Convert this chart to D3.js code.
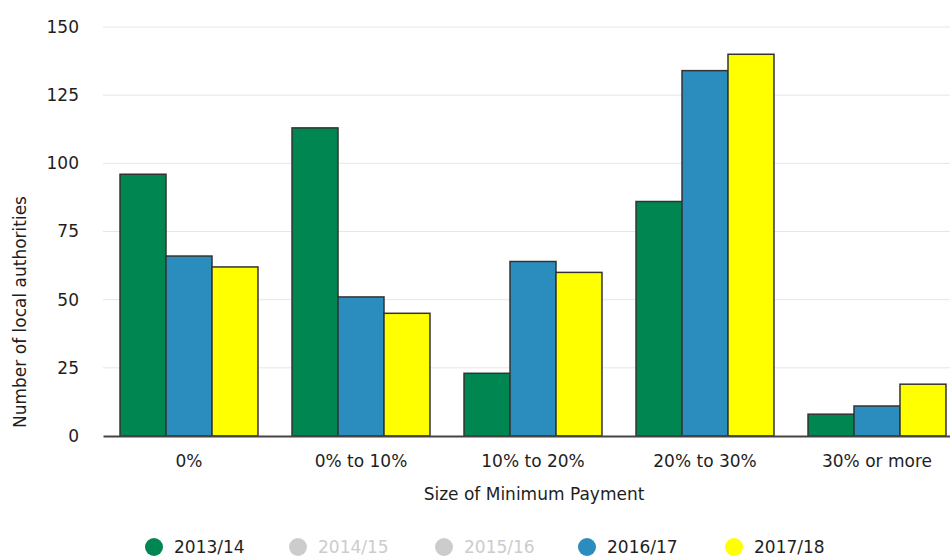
<!DOCTYPE html>
<html>
<head>
<meta charset="utf-8">
<script src="https://cdn.jsdelivr.net/npm/d3@7"></script>
<style>
  body { margin: 0; background: #fff; overflow: hidden; }
  svg { font-family: "DejaVu Sans", Verdana, sans-serif; }
</style>
</head>
<body>
<svg id="chart" width="950" height="556"></svg>
<script>
// data
var categories = ["0%", "0% to 10%", "10% to 20%", "20% to 30%", "30% or more"];
var values1314 = [96, 113, 23, 86, 8];
var values1617 = [66, 51, 64, 134, 11];
var values1718 = [62, 45, 60, 140, 19];
var yTicks = [0, 25, 50, 75, 100, 125, 150];

// legend entries (2014/15 and 2015/16 are switched off in the original)
var legendNames = ["2013/14", "2014/15", "2015/16", "2016/17", "2017/18"];
var legendColors = ["#008751", "#cccccc", "#cccccc", "#2b8cbe", "#ffff00"];
var legendVisible = [true, false, false, true, true];

var series = [
  { name: "2013/14", color: "#008751", values: values1314 },
  { name: "2016/17", color: "#2b8cbe", values: values1617 },
  { name: "2017/18", color: "#ffff00", values: values1718 }
];

var fontSize = 17;
var textColor = "#1e1e1e";

// the original plot runs a little past the right edge of the picture
var margin = { top: 27, left: 103 };
var plotWidth = 860;
var height = 436 - margin.top;

var svg = d3.select("#chart");
var g = svg.append("g").attr("transform", "translate(" + margin.left + "," + margin.top + ")");

var x = d3.scaleBand().domain(categories).range([0, plotWidth]);
var xInner = d3.scaleBand().domain(series.map(function(d) { return d.name; }))
  .range([0, x.bandwidth()]).paddingOuter(0.37).paddingInner(0);
var y = d3.scaleLinear().domain([0, 150]).range([height, 0]);

// gridlines
g.append("g").selectAll("line")
  .data(yTicks.slice(1))
  .enter().append("line")
  .attr("x1", 0).attr("x2", plotWidth)
  .attr("y1", function(d) { return y(d); })
  .attr("y2", function(d) { return y(d); })
  .attr("stroke", "#e6e6e6").attr("stroke-width", 1);

// y axis labels
var yAxis = d3.axisLeft(y).tickValues(yTicks).tickSize(0).tickPadding(24);
g.append("g").call(yAxis)
  .call(function(s) { s.select(".domain").remove(); })
  .selectAll("text")
  .attr("font-size", fontSize).attr("fill", textColor)
  .attr("font-family", "DejaVu Sans, Verdana, sans-serif");

// bars
var groups = g.selectAll(".grp")
  .data(categories)
  .enter().append("g")
  .attr("transform", function(d) { return "translate(" + x(d) + ",0)"; });

groups.selectAll("rect")
  .data(function(c, i) {
    return series.map(function(s) { return { name: s.name, color: s.color, value: s.values[i] }; });
  })
  .enter().append("rect")
  .attr("x", function(d) { return xInner(d.name); })
  .attr("width", xInner.bandwidth())
  .attr("y", function(d) { return y(d.value); })
  .attr("height", function(d) { return height - y(d.value); })
  .attr("fill", function(d) { return d.color; })
  .attr("stroke", "#333")
  .attr("stroke-width", 1.5);

// x axis
var xAxis = d3.axisBottom(x).tickSize(0).tickPadding(19);
var xg = g.append("g").attr("transform", "translate(0," + height + ")").call(xAxis);
xg.select(".domain").attr("stroke", "#444").attr("stroke-width", 2);
xg.selectAll("text")
  .attr("font-size", fontSize).attr("fill", textColor)
  .attr("font-family", "DejaVu Sans, Verdana, sans-serif");

// axis titles
svg.append("text")
  .attr("x", 534)
  .attr("y", 500)
  .attr("text-anchor", "middle")
  .attr("font-size", fontSize).attr("fill", textColor)
  .text("Size of Minimum Payment");

svg.append("text")
  .attr("transform", "translate(26,312) rotate(-90)")
  .attr("text-anchor", "middle")
  .attr("font-size", fontSize).attr("fill", textColor)
  .text("Number of local authorities");

// legend
var legendX = [154, 298, 444, 587, 734];
var legend = svg.append("g").selectAll("g")
  .data(legendNames)
  .enter().append("g")
  .attr("transform", function(d, i) { return "translate(" + legendX[i] + ",547)"; });

legend.append("circle")
  .attr("r", 9)
  .attr("fill", function(d, i) { return legendColors[i]; });

legend.append("text")
  .attr("x", 20).attr("y", 6)
  .attr("font-size", fontSize)
  .attr("fill", function(d, i) { return legendVisible[i] ? textColor : "#cccccc"; })
  .text(function(d) { return d; });
</script>
</body>
</html>
